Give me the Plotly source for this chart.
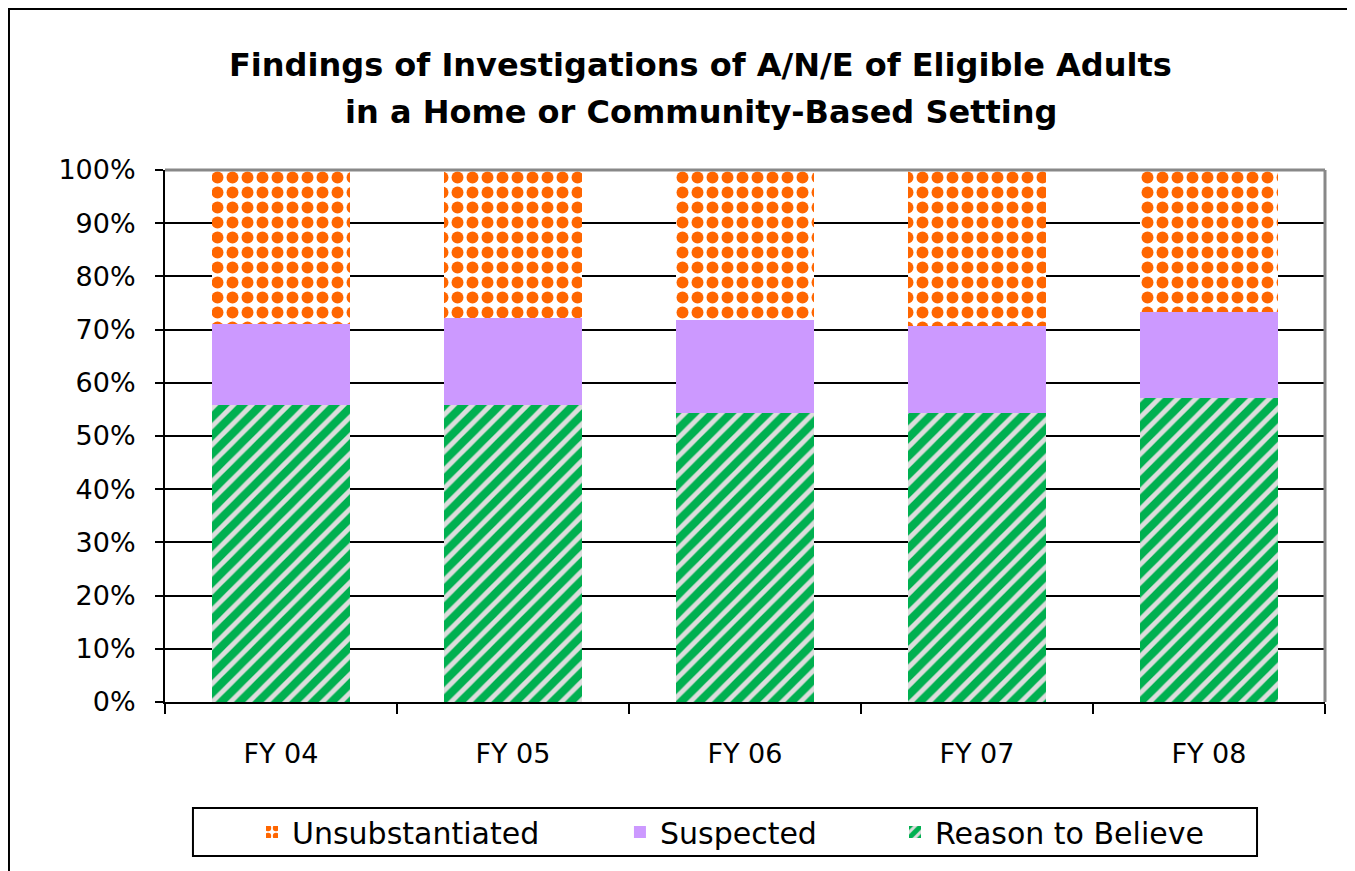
import plotly.graph_objects as go

years = ["FY 04", "FY 05", "FY 06", "FY 07", "FY 08"]
reason_to_believe = [55.8, 55.8, 54.3, 54.3, 57.1]
suspected = [15.2, 16.4, 17.5, 16.4, 16.2]
unsubstantiated = [29.0, 27.8, 28.2, 29.3, 26.7]

title_lines = ["Findings of Investigations of A/N/E of Eligible Adults",
               "in a Home or Community-Based Setting"]

font_family = "DejaVu Sans, sans-serif"

fig = go.Figure()
fig.add_trace(go.Bar(
    x=years, y=reason_to_believe, name="Reason to Believe", legend="legend3",
    marker=dict(color="#DDDDDD", line=dict(width=0),
                pattern=dict(shape="/", fgcolor="#00B050", bgcolor="#DDDDDD",
                             size=13, solidity=0.62, fillmode="replace")),
))
fig.add_trace(go.Bar(
    x=years, y=suspected, name="Suspected", legend="legend2",
    marker=dict(color="#CC99FF", line=dict(width=0)),
))
fig.add_trace(go.Bar(
    x=years, y=unsubstantiated, name="Unsubstantiated", legend="legend",
    marker=dict(color="#FFFFFF", line=dict(width=0),
                pattern=dict(shape=".", fgcolor="#FF6600", bgcolor="#FFFFFF",
                             size=15, solidity=0.5, fillmode="replace")),
))

leg = dict(orientation="h", y=-0.2444, yanchor="middle", xanchor="left",
           bgcolor="rgba(0,0,0,0)", borderwidth=0, font=dict(size=30))

fig.update_layout(
    barmode="stack",
    bargap=0.409,
    width=1355, height=871,
    margin=dict(l=157, r=38, t=162, b=177),
    paper_bgcolor="white", plot_bgcolor="white",
    font=dict(family=font_family, size=27, color="black"),
    showlegend=True,
    legend=dict(leg, x=0.075),
    legend2=dict(leg, x=0.3922),
    legend3=dict(leg, x=0.6293),
)

for i, (line, ypos) in enumerate(zip(title_lines, [1.1974, 1.109])):
    fig.add_annotation(text="<b>" + line + "</b>", xref="paper", yref="paper",
                       x=0.462, y=ypos, xanchor="center", yanchor="middle",
                       showarrow=False, font=dict(size=32, color="black"))

fig.update_yaxes(
    range=[0, 100], dtick=10, ticksuffix="%",
    showgrid=True, gridcolor="black", gridwidth=2,
    ticks="outside", ticklen=8, tickcolor="black", tickwidth=2,
    showline=True, linecolor="black", linewidth=2,
    zeroline=False, ticklabelstandoff=14,
)
fig.update_xaxes(
    tickson="boundaries", ticks="outside", ticklen=10, tickcolor="black", tickwidth=2,
    showline=True, linecolor="black", linewidth=2,
    ticklabelstandoff=27,
)

# grey right/top border of the plot area
fig.add_shape(type="line", xref="paper", yref="paper", x0=1, x1=1, y0=0, y1=1,
              line=dict(color="#888888", width=3))
fig.add_shape(type="line", xref="paper", yref="paper", x0=0, x1=1, y0=1, y1=1,
              line=dict(color="#888888", width=3))
# legend box
fig.add_shape(type="rect", xref="paper", yref="paper", x0=0.0241, x1=0.9414,
              y0=-0.2895, y1=-0.1992, line=dict(color="black", width=2),
              fillcolor="white", layer="below")
# outer chart frame
fig.add_shape(type="rect", xref="paper", yref="paper", x0=-0.1345, x1=1.0241,
              y0=-0.4, y1=1.3026, line=dict(color="black", width=2), layer="below")

fig.write_html("out.html")
